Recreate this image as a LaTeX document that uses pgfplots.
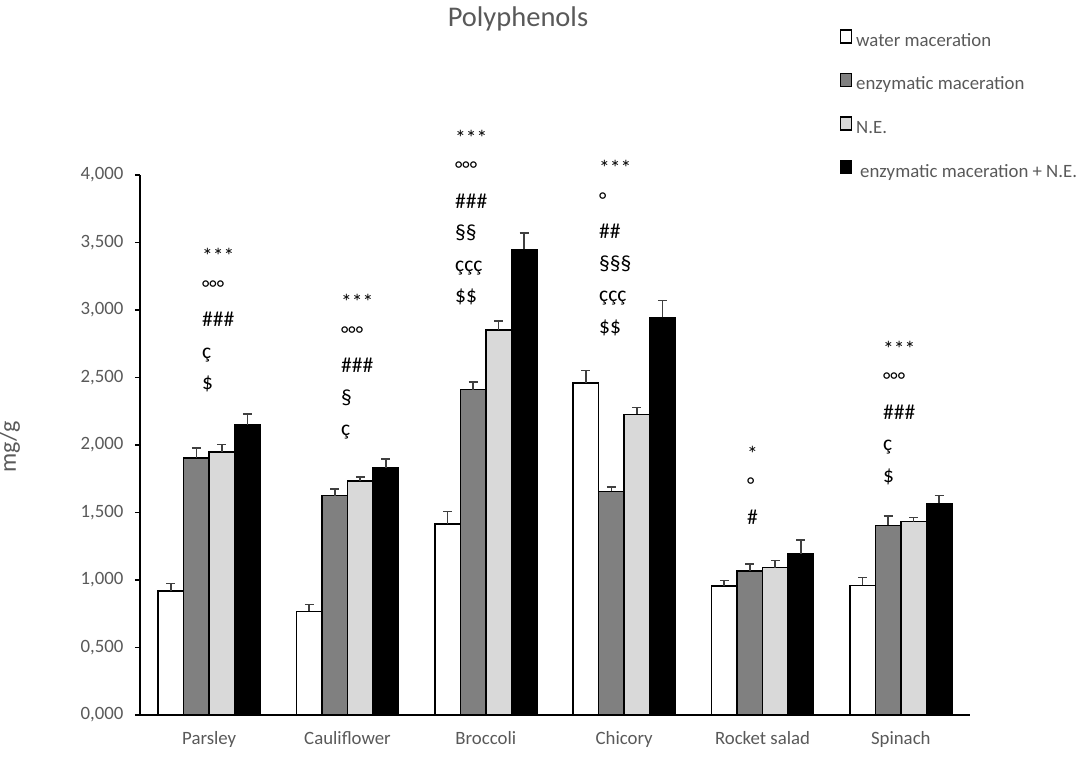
\documentclass[border=0pt]{standalone}
\usepackage{pgfplots}
\pgfplotsset{compat=1.18}
\usepackage{pgfplotstable}
\usepackage{fontspec}
\setmainfont{Carlito}
\definecolor{txt}{HTML}{595959}
\definecolor{midgray}{HTML}{808080}
\definecolor{ltgray}{HTML}{D9D9D9}
\definecolor{errc}{HTML}{404040}
\pgfplotsset{
  lbox/.style={legend image code/.code={\draw[##1, line width=1.5pt] (0pt,-1pt) rectangle (11pt,12pt);}},
  eb/.style={error bars/.cd, y dir=plus, y explicit,
    error bar style={line width=1.6pt, color=errc, solid},
    error mark=|,
    error mark options={line width=1.6pt, color=errc, mark size=4.5pt, solid}},
}

\pgfplotstableread{
x y e
0 0.918 0.057
1 0.767 0.051
2 1.415 0.092
3 2.459 0.093
4 0.955 0.040
5 0.960 0.059
}\water
\pgfplotstableread{
x y e
0 1.904 0.074
1 1.625 0.049
2 2.410 0.057
3 1.657 0.031
4 1.066 0.052
5 1.405 0.069
}\enzym
\pgfplotstableread{
x y e
0 1.948 0.055
1 1.733 0.031
2 2.850 0.067
3 2.226 0.052
4 1.091 0.052
5 1.432 0.032
}\ne
\pgfplotstableread{
x y e
0 2.151 0.080
1 1.830 0.066
2 3.449 0.123
3 2.945 0.126
4 1.192 0.104
5 1.568 0.057
}\enzne

\newcommand\annot[2]{%
  \foreach \s [count=\i from 0] in {#2} {%
    \node[anchor=base west, inner sep=0pt, font=\fontsize{21.5}{25}\selectfont, text=black]
      at ([yshift={-\i*31.5pt}]#1) {\s};}}

\begin{document}
\begin{tikzpicture}
\useasboundingbox (0,0) rectangle (1084pt,760pt);
\begin{axis}[
  at={(140pt,45pt)}, anchor=south west,
  width=830pt, height=540pt, scale only axis,
  ybar=0pt, bar width=25.5pt,
  xmin=-0.5, xmax=5.5, ymin=0, ymax=4,
  xtick={0,1,2,3,4,5},
  xticklabels={Parsley, Cauliflower, Broccoli, Chicory, Rocket salad, Spinach},
  ytick={0,0.5,...,4},
  axis x line*=bottom, axis y line*=left,
  axis line style={line width=1.5pt, black, -},
  tick align=outside, major tick length=5pt,
  xtick style={draw=none},
  ytick style={line width=1.5pt, black},
  tick label style={font=\fontsize{18.8}{23}\selectfont, text=txt},
  yticklabel style={xshift=-8pt, /pgf/number format/.cd, fixed, fixed zerofill, precision=3, use comma, assume math mode=true},
  xticklabel style={yshift=-8pt},
  title={Polyphenols},
  title style={at={(axis description cs:0.4554,1.263)}, anchor=base, font=\fontsize{28.5}{32}\selectfont, text=txt},
  ylabel={mg/g},
  every axis y label/.style={at={(axis description cs:-0.157,0.496)}, rotate=90, anchor=center, font=\fontsize{24}{28}\selectfont, text=txt},
  legend style={at={(rel axis cs:0.8428,1.2704)}, anchor=north west, draw=none, fill=none,
    inner sep=0pt, row sep=20.3pt, column sep=2pt,
    nodes={font=\fontsize{18.8}{22}\selectfont, text=txt, text height=13pt, text depth=4pt, inner sep=2pt, anchor=west}},
  legend cell align=left,
  clip=false,
]
\addplot[fill=white, draw=black, line width=1.5pt, lbox, eb]
  table[x=x, y=y, y error=e] {\water};
\addlegendentry{water maceration}
\addplot[fill=midgray, draw=black, line width=1.5pt, lbox, eb]
  table[x=x, y=y, y error=e] {\enzym};
\addlegendentry{enzymatic maceration}
\addplot[fill=ltgray, draw=black, line width=1.5pt, lbox, eb]
  table[x=x, y=y, y error=e] {\ne};
\addlegendentry{N.E.}
\addplot[fill=black, draw=black, line width=1.5pt, lbox, eb]
  table[x=x, y=y, y error=e] {\enzne};
\addlegendentry{\hspace{4pt}enzymatic maceration + N.E.}

\coordinate (aP) at (axis cs:-0.052,3.341);
\coordinate (aC) at (axis cs:0.953,3.000);
\coordinate (aB) at (axis cs:1.777,4.222);
\coordinate (aH) at (axis cs:2.818,3.993);
\coordinate (aR) at (axis cs:3.888,1.881);
\coordinate (aS) at (axis cs:4.871,2.659);
\end{axis}
\annot{aP}{***,°°°,\#\#\#,ç,\$}
\annot{aC}{***,°°°,\#\#\#,§,ç}
\annot{aB}{***,°°°,\#\#\#,§§,ççç,\$\$}
\annot{aH}{***,°,\#\#,§§§,ççç,\$\$}
\annot{aR}{*,°,\#}
\annot{aS}{***,°°°,\#\#\#,ç,\$}
\end{tikzpicture}
\end{document}
